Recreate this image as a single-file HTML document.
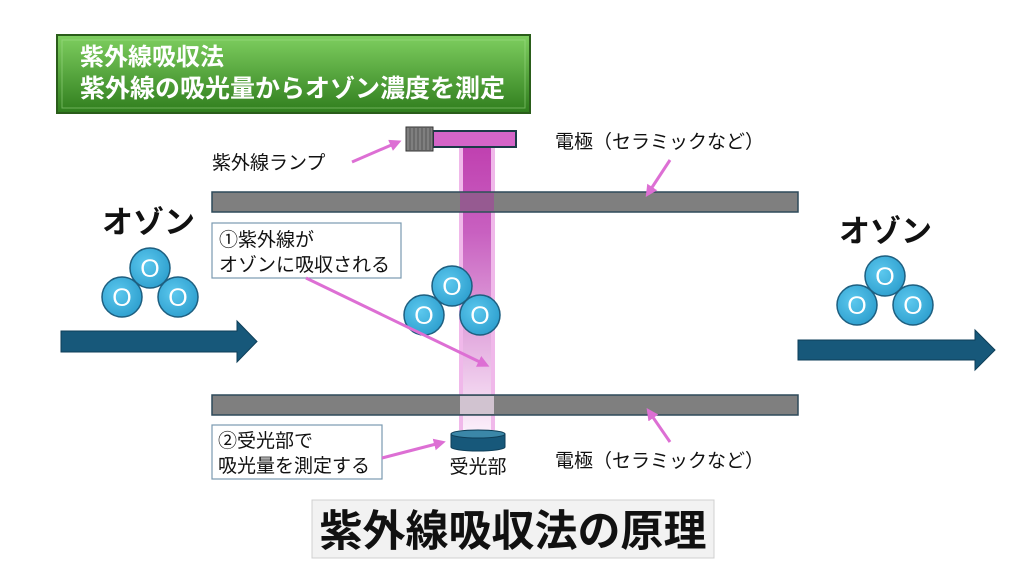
<!DOCTYPE html>
<html><head><meta charset="utf-8"><style>
html,body{margin:0;padding:0;background:#fff;}
svg{display:block;font-family:"Liberation Sans","Noto Sans CJK JP",sans-serif;}
</style></head><body>
<svg width="1024" height="576" viewBox="0 0 1024 576" xmlns="http://www.w3.org/2000/svg">
<defs>
<linearGradient id="g" x1="0" y1="0" x2="0" y2="1"><stop offset="0" stop-color="#7fcf60"/><stop offset="1" stop-color="#2f7d1d"/></linearGradient>
<linearGradient id="beam" x1="0" y1="0" x2="0" y2="1"><stop offset="0" stop-color="#c040b0"/><stop offset="0.3" stop-color="#c860c0"/><stop offset="1" stop-color="#fbeefa"/></linearGradient>
<radialGradient id="o" cx="0.4" cy="0.4" r="0.7"><stop offset="0" stop-color="#5cc8ee"/><stop offset="1" stop-color="#2a9ccc"/></radialGradient>
<marker id="ah" markerWidth="4" markerHeight="4" refX="2" refY="2" orient="auto" markerUnits="strokeWidth"><path d="M0,0 L4,2 L0,4 z" fill="#dd6fd4"/></marker>
<g id="mol">
<circle cx="0" cy="0" r="20" fill="url(#o)" stroke="#1e5f80" stroke-width="1.5"/>
<circle cx="-28" cy="29" r="20" fill="url(#o)" stroke="#1e5f80" stroke-width="1.5"/>
<circle cx="28" cy="29" r="20" fill="url(#o)" stroke="#1e5f80" stroke-width="1.5"/>
<text x="0" y="9" font-size="25" fill="#fff" text-anchor="middle">O</text>
<text x="-28" y="38" font-size="25" fill="#fff" text-anchor="middle">O</text>
<text x="28" y="38" font-size="25" fill="#fff" text-anchor="middle">O</text>
</g>
</defs>
<rect x="57" y="35" width="473" height="78" fill="url(#g)" stroke="#2a5d1a" stroke-width="2"/>
<rect x="62" y="40" width="463" height="68" fill="none" stroke="#a6e090" stroke-opacity="0.5"/>
<text x="80" y="65" font-size="24" font-weight="bold" fill="#fff">紫外線吸収法</text>
<text x="80" y="97" font-size="25" font-weight="bold" fill="#fff">紫外線の吸光量からオゾン濃度を測定</text>
<rect x="459" y="147" width="36" height="283" fill="#f0b8ea"/>
<rect x="463" y="147" width="28" height="283" fill="url(#beam)"/>
<rect x="212" y="192" width="586" height="20" fill="#7f7f7f" stroke="#2e4a5a" stroke-width="1.5"/>
<rect x="212" y="395" width="586" height="20" fill="#7f7f7f" stroke="#2e4a5a" stroke-width="1.5"/>
<rect x="460" y="193" width="34" height="18" fill="#a04a98" opacity="0.7"/>
<rect x="460" y="396" width="34" height="18" fill="#f4e0f2" opacity="0.7"/>
<rect x="433" y="131" width="83" height="16" fill="#d465c8" stroke="#1b3a48" stroke-width="2"/>
<rect x="406" y="127" width="27" height="24" fill="#7f7f7f" stroke="#333" stroke-width="1"/>
<g stroke="#555" stroke-width="1"><line x1="410" y1="128" x2="410" y2="150"/><line x1="414" y1="128" x2="414" y2="150"/><line x1="418" y1="128" x2="418" y2="150"/><line x1="422" y1="128" x2="422" y2="150"/><line x1="426" y1="128" x2="426" y2="150"/><line x1="430" y1="128" x2="430" y2="150"/></g>
<path d="M61,331 H237 V321 L257,341.5 L237,362 V352 H61 z" fill="#17587a" stroke="#0e3e58"/>
<path d="M798,340 H975 V330 L995,350 L975,370 V360 H798 z" fill="#17587a" stroke="#0e3e58"/>
<text x="102" y="233" font-size="31" font-weight="bold" fill="#111">オゾン</text>
<text x="839" y="242" font-size="31" font-weight="bold" fill="#111">オゾン</text>
<use href="#mol" x="150" y="268"/>
<use href="#mol" x="452" y="286"/>
<use href="#mol" x="885" y="276"/>
<rect x="212" y="223" width="189" height="55" fill="#fff" stroke="#7a9ab0" stroke-width="1.2"/>
<text x="219" y="246" font-size="19" fill="#111">①紫外線が</text>
<text x="219" y="271" font-size="19" fill="#111">オゾンに吸収される</text>
<rect x="212" y="425" width="170" height="54" fill="#fff" stroke="#7a9ab0" stroke-width="1.2"/>
<text x="218" y="447" font-size="19" fill="#111">②受光部で</text>
<text x="218" y="472" font-size="19" fill="#111">吸光量を測定する</text>
<g stroke="#dd6fd4" stroke-width="3" fill="none" marker-end="url(#ah)">
<line x1="306" y1="278" x2="484" y2="364"/>
<line x1="382" y1="458" x2="440" y2="443"/>
<line x1="352" y1="162" x2="396" y2="143"/>
<line x1="670" y1="160" x2="649" y2="192"/>
<line x1="670" y1="442" x2="650" y2="413"/>
</g>
<path d="M451,434 V447 A27,4 0 0 0 505,447 V434 z" fill="#17587a" stroke="#0e3e58"/>
<ellipse cx="478" cy="434" rx="27" ry="4" fill="#3b87a8" stroke="#0e3e58"/>
<text x="478" y="473" font-size="19" fill="#111" text-anchor="middle">受光部</text>
<text x="212" y="169" font-size="19" fill="#111">紫外線ランプ</text>
<text x="555" y="148" font-size="19" fill="#111">電極（セラミックなど）</text>
<text x="555" y="467" font-size="19" fill="#111">電極（セラミックなど）</text>
<rect x="312" y="500" width="402" height="58" fill="#f2f2f2" stroke="#d0d0d0"/>
<text x="513" y="546" font-size="43" fill="#111" text-anchor="middle" font-weight="bold">紫外線吸収法の原理</text>
</svg>
</body></html>
